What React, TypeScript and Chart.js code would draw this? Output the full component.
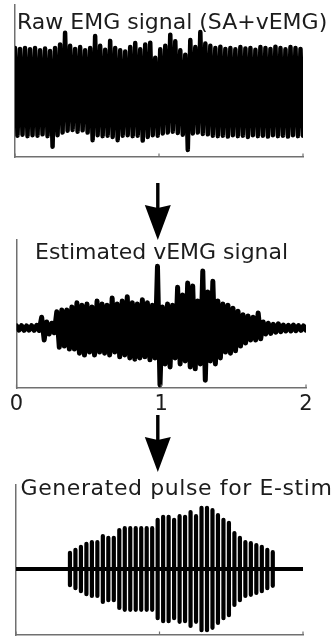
import React, { useEffect, useRef } from "react";
import { Chart, registerables } from "chart.js";

Chart.register(...registerables);

// ---------- data ----------
const panelTitles = [
  "Raw EMG signal (SA+vEMG)",
  "Estimated vEMG signal",
  "Generated pulse for E-stim",
];
const xTickValues = [0, 1, 2];
const xTickLabels = ["0", "1", "2"];

// Panel 1: raw EMG, upper and lower extreme of each visible stroke
const rawPeaks = [
  1.0, 0.98, 1.0, 0.97, 1.0, 0.95, 0.99, 0.93, 1.0, 1.08,
  1.34, 1.05, 0.98, 1.02, 0.95, 1.0, 1.27, 1.05, 0.96, 1.16,
  1.0, 0.95, 0.92, 1.02, 1.11, 0.97, 1.08, 1.12, 0.78, 0.97,
  1.05, 1.3, 1.15, 0.95, 0.85, 1.18, 1.02, 1.36, 1.1, 1.05,
  1.0, 1.03, 0.98, 1.0, 0.97, 1.02, 0.99, 1.0, 0.96, 1.02,
  1.0, 0.98, 1.03, 1.0, 0.97, 1.02, 1.0, 0.98,
];
const rawTroughs = [
  -0.97, -0.95, -0.98, -0.96, -0.97, -0.94, -0.98, -1.22, -0.96, -0.9,
  -0.86, -0.84, -0.88, -0.85, -0.9, -1.07, -0.96, -0.98, -0.97, -1.0,
  -1.07, -0.97, -0.96, -0.98, -0.97, -1.08, -1.0, -0.96, -0.97, -0.92,
  -0.9, -0.88, -0.91, -0.95, -1.29, -0.92, -0.9, -0.93, -0.94, -0.97,
  -0.98, -0.97, -0.99, -0.96, -0.98, -0.97, -1.0, -0.96, -0.98, -0.97,
  -0.99, -0.96, -0.98, -0.97, -0.99, -0.96, -0.98, -0.97,
];

// Panel 2: estimated vEMG, upper and lower extreme of each stroke
const vemgPeaks = [
  0.035, 0.04, 0.035, 0.04, 0.045, 0.18, 0.1, 0.08, 0.27, 0.3,
  0.3, 0.35, 0.42, 0.38, 0.4, 0.35, 0.45, 0.4, 0.38, 0.5,
  0.4, 0.45, 0.52, 0.42, 0.4, 0.47, 0.42, 0.38, 1.03, 0.35,
  0.4, 0.38, 0.68, 0.55, 0.75, 0.7, 0.45, 0.95, 0.6, 0.78,
  0.45, 0.4, 0.38, 0.33, 0.28, 0.22, 0.2, 0.18, 0.25, 0.1,
  0.08, 0.06, 0.07, 0.05, 0.045, 0.05, 0.04, 0.035,
];
const vemgTroughs = [
  -0.035, -0.04, -0.035, -0.04, -0.04, -0.2, -0.1, -0.08, -0.32, -0.3,
  -0.35, -0.35, -0.42, -0.45, -0.4, -0.45, -0.4, -0.42, -0.45, -0.4,
  -0.48, -0.45, -0.5, -0.52, -0.5, -0.48, -0.53, -0.5, -0.95, -0.6,
  -0.65, -0.5, -0.6, -0.55, -0.65, -0.68, -0.6, -0.87, -0.55, -0.6,
  -0.5, -0.4, -0.42, -0.38, -0.3, -0.25, -0.2, -0.2, -0.18, -0.1,
  -0.09, -0.07, -0.06, -0.05, -0.05, -0.045, -0.04, -0.035,
];

// Panel 3: biphasic stimulation pulses
const pulseAmplitudes = [
  0.27, 0.32, 0.37, 0.42, 0.45, 0.45, 0.55, 0.52, 0.52, 0.65,
  0.68, 0.68, 0.68, 0.68, 0.68, 0.68, 0.82, 0.87, 0.87, 0.82,
  0.88, 0.87, 0.95, 0.88, 1.02, 1.02, 0.98, 0.9, 0.82, 0.77,
  0.6, 0.52, 0.45, 0.43, 0.4, 0.37, 0.32, 0.28,
];
const pulseStartTime = 0.376;
const pulseInterval = 0.0382;
const timeRange = [0, 2];

// ---------- helpers ----------
function strokeSeries(peaks: number[], troughs: number[]) {
  const n = peaks.length;
  const dx = (timeRange[1] - timeRange[0]) / (n - 0.5);
  const pts: { x: number; y: number }[] = [];
  for (let i = 0; i < n; i++) {
    pts.push({ x: timeRange[0] + i * dx, y: peaks[i] });
    pts.push({ x: timeRange[0] + (i + 0.5) * dx, y: troughs[i] });
  }
  return pts;
}

function pulseSeries(amps: number[]) {
  const pts: { x: number; y: number }[] = [{ x: timeRange[0], y: 0 }];
  amps.forEach((a, i) => {
    const t = pulseStartTime + i * pulseInterval;
    pts.push({ x: t, y: 0 }, { x: t, y: a }, { x: t, y: -a }, { x: t, y: 0 });
  });
  pts.push({ x: timeRange[1], y: 0 });
  return pts;
}

const AXIS_COLOR = "#707070";

const inwardTicks = {
  id: "inwardTicks",
  afterDraw(chart: any) {
    const s = chart.scales.x;
    const ctx = chart.ctx;
    const y = chart.chartArea.bottom;
    ctx.save();
    ctx.strokeStyle = AXIS_COLOR;
    ctx.lineWidth = 1.2;
    s.ticks.forEach((t: any) => {
      const px = s.getPixelForValue(t.value);
      ctx.beginPath();
      ctx.moveTo(px, y);
      ctx.lineTo(px, y - 3.5);
      ctx.stroke();
    });
    ctx.restore();
  },
};

type PanelProps = {
  top: number;
  height: number;
  data: { x: number; y: number }[];
  yMin: number;
  yMax: number;
  lineWidth: number;
  padding: { left: number; right: number; top: number; bottom: number };
  showLabels: boolean;
  xAxisHeight: number;
};

function Panel(p: PanelProps) {
  const ref = useRef<HTMLCanvasElement | null>(null);
  useEffect(() => {
    if (!ref.current) return;
    const chart = new Chart(ref.current, {
      type: "line",
      data: {
        datasets: [
          {
            data: p.data,
            borderColor: "#000",
            borderWidth: p.lineWidth,
            pointRadius: 0,
            tension: 0,
            borderJoinStyle: "round",
            borderCapStyle: "round",
            fill: false,
          },
        ],
      },
      options: {
        animation: false,
        responsive: false,
        devicePixelRatio: 1,
        layout: { padding: p.padding },
        plugins: { legend: { display: false }, tooltip: { enabled: false }, title: { display: false } },
        scales: {
          x: {
            type: "linear",
            min: timeRange[0],
            max: timeRange[1],
            grid: { display: false, drawTicks: false },
            border: { display: true, color: AXIS_COLOR, width: 1.5 },
            afterBuildTicks: (s: any) => {
              s.ticks = xTickValues.map((v) => ({ value: v }));
            },
            ticks: {
              display: p.showLabels,
              padding: 4,
              color: "#1c1c1c",
              maxRotation: 0,
              autoSkip: false,
              font: { family: "'DejaVu Sans', sans-serif", size: 21, lineHeight: 1.2 },
              callback: (v: any) => xTickLabels[xTickValues.indexOf(Number(v))],
            },
            afterFit: (s: any) => {
              s.height = p.xAxisHeight;
            },
          },
          y: {
            type: "linear",
            min: p.yMin,
            max: p.yMax,
            grid: { display: false, drawTicks: false },
            border: { display: true, color: AXIS_COLOR, width: 1.5 },
            ticks: { display: false },
            afterFit: (s: any) => {
              s.width = 0;
            },
          },
        },
      },
      plugins: [inwardTicks],
    } as any);
    return () => chart.destroy();
  }, []);
  return (
    <canvas
      ref={ref}
      width={335}
      height={p.height}
      style={{ position: "absolute", left: 0, top: p.top, width: 335, height: p.height }}
    />
  );
}

function Arrow({ shaftTop, headTop, tip }: { shaftTop: number; headTop: number; tip: number }) {
  const cx = 157.8;
  return (
    <svg
      width={335}
      height={637}
      style={{ position: "absolute", left: 0, top: 0, pointerEvents: "none", zIndex: 2 }}
    >
      <rect x={cx - 1.7} y={shaftTop} width={3.4} height={headTop - shaftTop + 6} fill="#000" />
      <polygon
        points={`${cx - 13},${headTop} ${cx},${headTop + 3} ${cx + 13},${headTop} ${cx},${tip}`}
        fill="#000"
      />
    </svg>
  );
}

const titleStyle: React.CSSProperties = {
  position: "absolute",
  fontFamily: "'DejaVu Sans', sans-serif",
  fontSize: 22,
  lineHeight: "22px",
  color: "#1c1c1c",
  whiteSpace: "nowrap",
  zIndex: 3,
};

export default function App() {
  return (
    <div
      style={{
        position: "fixed",
        left: 0,
        top: 0,
        width: 335,
        height: 637,
        background: "#fff",
        overflow: "hidden",
      }}
    >
      <Panel
        top={0}
        height={170}
        data={strokeSeries(rawPeaks, rawTroughs)}
        yMin={-1.449}
        yMax={1.966}
        lineWidth={4.5}
        padding={{ left: 15, right: 32, top: 5, bottom: 13 }}
        showLabels={false}
        xAxisHeight={0}
      />
      <Panel
        top={225}
        height={195}
        data={strokeSeries(vemgPeaks, vemgTroughs)}
        yMin={-1.0}
        yMax={1.467}
        lineWidth={5}
        padding={{ left: 16.5, right: 29, top: 15, bottom: 2 }}
        showLabels={true}
        xAxisHeight={30}
      />
      <Panel
        top={470}
        height={167}
        data={pulseSeries(pulseAmplitudes)}
        yMin={-1.1}
        yMax={1.4}
        lineWidth={4.2}
        padding={{ left: 16, right: 32, top: 15, bottom: 2 }}
        showLabels={false}
        xAxisHeight={0}
      />
      <div style={{ ...titleStyle, left: 17, top: 10.7 }}>{panelTitles[0]}</div>
      <div style={{ ...titleStyle, left: 35, top: 240.7 }}>{panelTitles[1]}</div>
      <div style={{ ...titleStyle, left: 20.5, top: 477, letterSpacing: "0.6px" }}>{panelTitles[2]}</div>
      <Arrow shaftTop={183} headTop={205} tip={240} />
      <Arrow shaftTop={415} headTop={437} tip={472} />
    </div>
  );
}
